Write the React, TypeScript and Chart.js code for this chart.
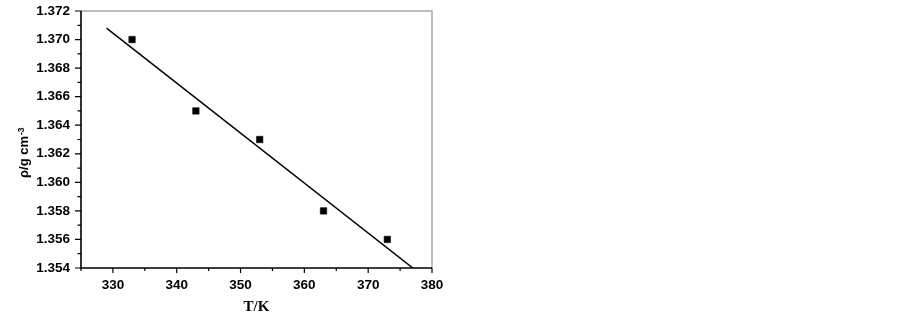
import React, { useEffect, useRef } from "react";
import { Chart, registerables } from "chart.js";

Chart.register(...registerables);

const temperatures = [333, 343, 353, 363, 373];
const densities = [1.37, 1.365, 1.363, 1.358, 1.356];
const fitTemperatures = [329, 377];
const fitDensities = [1.3708, 1.354];
const xTickValues = [330, 340, 350, 360, 370, 380];
const yTickValues = [1.354, 1.356, 1.358, 1.36, 1.362, 1.364, 1.366, 1.368, 1.37, 1.372];
const xMinorValues = [325, 335, 345, 355, 365, 375];
const yMinorValues = [1.355, 1.357, 1.359, 1.361, 1.363, 1.365, 1.367, 1.369, 1.371];
const xTitle = "T/K";
const yTitle = "ρ/g cm";
const yTitleSup = "-3";

const SANS = "'Liberation Sans', Arial, sans-serif";
const SERIF = "'Liberation Serif', 'Times New Roman', serif";

const framePlugin = {
  id: "frame",
  afterDraw(chart: any) {
    const { ctx, chartArea } = chart;
    const { left, right, top, bottom } = chartArea;
    const xs = chart.scales.x;
    const ys = chart.scales.y;
    ctx.save();
    ctx.strokeStyle = "#a8a8a8";
    ctx.lineWidth = 1.5;
    ctx.beginPath();
    ctx.moveTo(left, top);
    ctx.lineTo(right, top);
    ctx.lineTo(right, bottom);
    ctx.stroke();
    ctx.strokeStyle = "#000";
    ctx.lineWidth = 1.6;
    ctx.beginPath();
    ctx.moveTo(left, top);
    ctx.lineTo(left, bottom);
    ctx.lineTo(right, bottom);
    ctx.stroke();
    ctx.lineWidth = 1.2;
    ctx.beginPath();
    for (const v of xTickValues) {
      const px = xs.getPixelForValue(v);
      ctx.moveTo(px, bottom);
      ctx.lineTo(px, bottom + 5);
    }
    for (const v of xMinorValues) {
      const px = xs.getPixelForValue(v);
      ctx.moveTo(px, bottom);
      ctx.lineTo(px, bottom + 3);
    }
    for (const v of yTickValues) {
      const py = ys.getPixelForValue(v);
      ctx.moveTo(left, py);
      ctx.lineTo(left - 6, py);
    }
    for (const v of yMinorValues) {
      const py = ys.getPixelForValue(v);
      ctx.moveTo(left, py);
      ctx.lineTo(left - 3.5, py);
    }
    ctx.stroke();
    ctx.fillStyle = "#000";
    ctx.font = `bold 15px ${SERIF}`;
    ctx.textAlign = "center";
    ctx.textBaseline = "alphabetic";
    ctx.fillText(xTitle, (left + right) / 2, 311);
    ctx.translate(28, 178);
    ctx.rotate(-Math.PI / 2);
    ctx.textAlign = "left";
    ctx.font = `bold 13px ${SANS}`;
    ctx.fillText(yTitle, 0, 0);
    const w = ctx.measureText(yTitle).width;
    ctx.font = `bold 8.5px ${SANS}`;
    ctx.fillText(yTitleSup, w + 1, -4.5);
    ctx.restore();
  },
};

export default function App() {
  const ref = useRef<HTMLCanvasElement>(null);
  useEffect(() => {
    if (!ref.current) return;
    const chart = new Chart(ref.current, {
      type: "scatter",
      data: {
        datasets: [
          {
            label: "fit",
            data: fitTemperatures.map((t, i) => ({ x: t, y: fitDensities[i] })),
            showLine: true,
            borderColor: "#000",
            borderWidth: 1.5,
            pointRadius: 0,
            fill: false,
          },
          {
            label: "data",
            data: temperatures.map((t, i) => ({ x: t, y: densities[i] })),
            pointStyle: "rect",
            pointRadius: 4.6,
            pointBackgroundColor: "#000",
            pointBorderColor: "#000",
            pointBorderWidth: 0.5,
            showLine: false,
          },
        ],
      },
      options: {
        responsive: false,
        animation: false,
        layout: { padding: { left: 0, top: 11, right: 471, bottom: 0 } },
        plugins: { legend: { display: false }, tooltip: { enabled: false } },
        scales: {
          x: {
            type: "linear",
            min: 325,
            max: 380,
            afterBuildTicks: (s: any) => {
              s.ticks = xTickValues.map((v) => ({ value: v }));
            },
            afterFit: (s: any) => {
              s.height = 49;
              s.paddingLeft = 0;
              s.paddingRight = 0;
            },
            grid: { display: false, drawTicks: false },
            border: { display: false },
            ticks: {
              padding: 9,
              color: "#000",
              font: { family: SANS, size: 13.5, weight: "bold" },
              maxRotation: 0,
              callback: (v: any) => String(v),
            },
          },
          y: {
            type: "linear",
            min: 1.354,
            max: 1.372,
            afterBuildTicks: (s: any) => {
              s.ticks = yTickValues.map((v) => ({ value: v }));
            },
            afterFit: (s: any) => {
              s.width = 81;
              s.paddingTop = 0;
              s.paddingBottom = 0;
            },
            grid: { display: false, drawTicks: false },
            border: { display: false },
            ticks: {
              padding: 11,
              color: "#000",
              font: { family: SANS, size: 13.5, weight: "bold" },
              callback: (v: any) => Number(v).toFixed(3),
            },
          },
        },
      },
      plugins: [framePlugin],
    });
    return () => chart.destroy();
  }, []);
  return (
    <div style={{ position: "fixed", left: 0, top: 0, width: 903, height: 317, background: "#fff" }}>
      <canvas ref={ref} width={903} height={317} />
    </div>
  );
}
